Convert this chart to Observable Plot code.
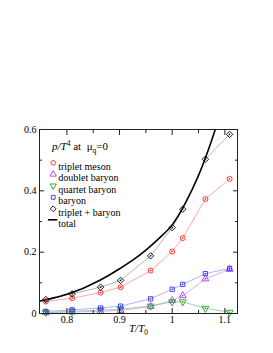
<!DOCTYPE html>
<html><head><meta charset="utf-8">
<script src="https://cdn.jsdelivr.net/npm/d3@7"></script>
<script src="https://cdn.jsdelivr.net/npm/@observablehq/plot@0.6"></script>
<style>body{margin:0;background:#fff} svg{display:block}</style>
</head><body><div id="chart"></div>
<script>
// ---- data ----
const temperature   = [0.760, 0.810, 0.864, 0.902, 0.959, 1.000, 1.020, 1.063, 1.109];
const tripletMeson  = [0.039, 0.050, 0.068, 0.086, 0.140, 0.202, 0.246, 0.373, 0.439];
const doubletBaryon = [0.003, 0.005, 0.007, 0.010, 0.023, 0.042, 0.058, 0.113, 0.144];
const quartetBaryon = [0.0035, 0.007, 0.011, 0.014, 0.024, 0.038, 0.038, 0.017, 0.004];
const baryon        = [0.0065, 0.012, 0.018, 0.024, 0.048, 0.079, 0.095, 0.130, 0.147];
const tripletPlusBaryon = [0.0455, 0.064, 0.086, 0.108, 0.188, 0.280, 0.340, 0.503, 0.584];
const totalT = [0.748, 0.775, 0.800, 0.825, 0.850, 0.875, 0.900, 0.925, 0.950, 0.975, 1.000, 1.025, 1.050, 1.075, 1.100];
const totalP = [0.040, 0.051, 0.063, 0.078, 0.098, 0.120, 0.146, 0.174, 0.207, 0.245, 0.289, 0.360, 0.450, 0.565, 0.700];
const xMajorTicks = [0.8, 0.9, 1.0, 1.1];
const xMinorTicks = [0.85, 0.95, 1.05];
const yMajorTicks = [0, 0.2, 0.4, 0.6];
const yMinorTicks = [0.1, 0.3, 0.5];
const seriesNames = ["triplet meson", "doublet baryon", "quartet baryon", "baryon", "triplet + baryon", "total"];

// ---- styles ----
const seriesStyle = [
  {values: tripletMeson,      color: "#ff2020", line: "#ff9090", symbol: "circle",   rotate: 0,   r: 2.5},
  {values: doubletBaryon,     color: "#a040e0", line: "#c99af0", symbol: "triangle", rotate: 0,   r: 2.6},
  {values: quartetBaryon,     color: "#20a020", line: "#8ccc8c", symbol: "triangle", rotate: 180, r: 2.6},
  {values: baryon,            color: "#3030ff", line: "#9c9cff", symbol: "square",   rotate: 0,   r: 2.4},
  {values: tripletPlusBaryon, color: "#000000", line: "#a0a0a0", symbol: "diamond2", rotate: 0,   r: 2.9}
];

const marks = [];
for (const s of seriesStyle) {
  const rows = temperature.map((t, i) => ({t, p: s.values[i]}));
  marks.push(Plot.line(rows, {x: "t", y: "p", stroke: s.line, strokeWidth: 0.8}));
}
marks.push(Plot.line(totalT.map((t, i) => ({t, p: totalP[i]})), {x: "t", y: "p", stroke: "#000", strokeWidth: 1.6, curve: "monotone-x", clip: true}));
for (const s of seriesStyle) {
  const rows = temperature.map((t, i) => ({t, p: s.values[i]}));
  marks.push(Plot.dot(rows, {x: "t", y: "p", symbol: s.symbol, rotate: s.rotate, r: s.r, stroke: s.color, strokeWidth: 0.9, fill: "none"}));
  marks.push(Plot.dot(rows, {x: "t", y: "p", r: 0.8, fill: s.color, stroke: "none"}));
}

// legend entries (inside frame, top-left)
seriesNames.forEach((name, i) => {
  const dy = 33.3 + i * 11.5;
  if (i < seriesStyle.length) {
    const s = seriesStyle[i];
    marks.push(Plot.dot([name], {frameAnchor: "top-left", dx: 13.7, dy, symbol: s.symbol, rotate: s.rotate, r: s.r * 0.9, stroke: s.color, strokeWidth: 0.9, fill: "none"}));
  }
  marks.push(Plot.text([name], {frameAnchor: "top-left", text: d => d, dx: 18.7, dy, textAnchor: "start", fontSize: 10, fill: "#000"}));
});

// frame and inward ticks on all four sides
marks.push(Plot.frame({stroke: "#222", strokeWidth: 1}));
for (const anchor of ["bottom", "top"]) {
  marks.push(Plot.axisX(xMajorTicks, {anchor, tickSize: -5, fill: "none", label: null, stroke: "#222"}));
  marks.push(Plot.axisX(xMinorTicks, {anchor, tickSize: -3, fill: "none", label: null, stroke: "#222"}));
}
for (const anchor of ["left", "right"]) {
  marks.push(Plot.axisY(yMajorTicks, {anchor, tickSize: -5, fill: "none", label: null, stroke: "#222"}));
  marks.push(Plot.axisY(yMinorTicks, {anchor, tickSize: -3, fill: "none", label: null, stroke: "#222"}));
}
marks.push(Plot.axisX(xMajorTicks, {anchor: "bottom", tickSize: 0, tickPadding: 2, tickFormat: d => String(d), label: null, fontSize: 10}));
marks.push(Plot.axisY(yMajorTicks, {anchor: "left", tickSize: 0, tickPadding: 3, tickFormat: d => String(d), label: null, fontSize: 10}));

const chart = Plot.plot({
  width: 273, height: 353,
  marginLeft: 39, marginRight: 36, marginTop: 129, marginBottom: 40,
  x: {domain: [0.748, 1.124]},
  y: {domain: [0, 0.6]},
  style: {fontFamily: "'Liberation Serif', 'DejaVu Serif', serif", fontSize: "10px", background: "#fff", color: "#000"},
  marks
});

const svg = d3.select(chart);
// legend title: p/T^4 at mu_q=0
const title = svg.append("text").attr("x", 52).attr("y", 150).attr("text-anchor", "start").attr("font-size", 11).attr("fill", "#000");
title.append("tspan").attr("font-style", "italic").text("p/T");
title.append("tspan").attr("font-size", 7.5).attr("dy", -4.5).text("4");
title.append("tspan").attr("dy", 4.5).text(" at  μ");
title.append("tspan").attr("font-size", 7.5).attr("dy", 3).text("q");
title.append("tspan").attr("dy", -3).text("=0");
// legend line for "total"
svg.append("line").attr("x1", 48).attr("x2", 57.3).attr("y1", 129 + 33.3 + 5 * 11.5).attr("y2", 129 + 33.3 + 5 * 11.5).attr("stroke", "#000").attr("stroke-width", 1.6);
// x axis label T/T_0
const xl = svg.append("text").attr("x", 129).attr("y", 332).attr("text-anchor", "start").attr("font-size", 11).attr("fill", "#000");
xl.append("tspan").attr("font-style", "italic").text("T/T");
xl.append("tspan").attr("font-size", 7.5).attr("dy", 3).text("0");

document.getElementById("chart").appendChild(chart);
</script>
</body></html>
